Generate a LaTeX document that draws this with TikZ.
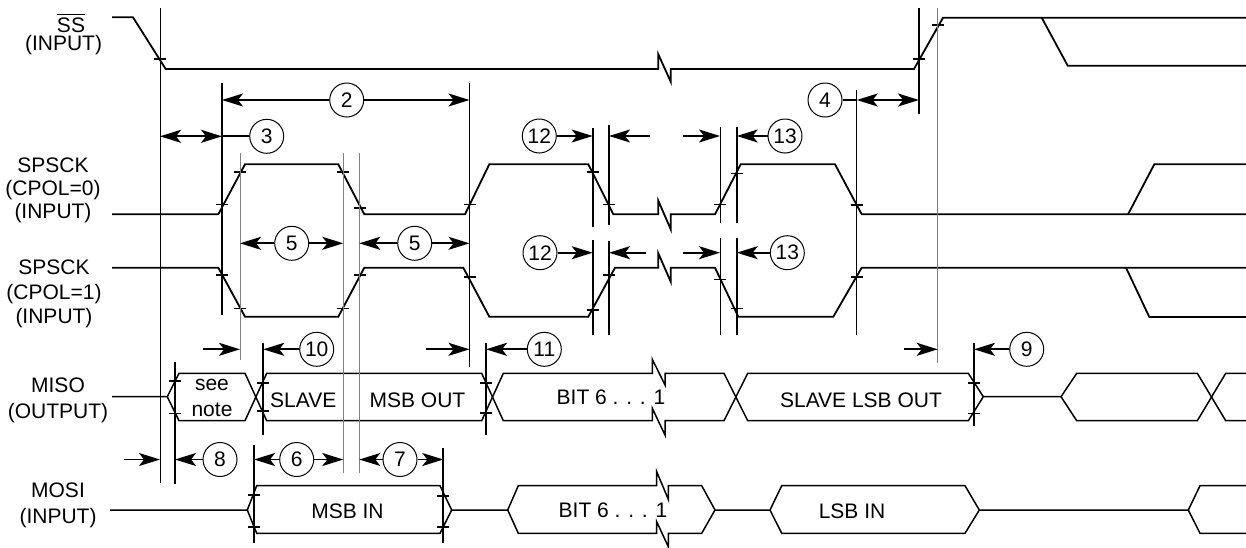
\documentclass[tikz,border=0pt]{standalone}
\usepackage{fontspec}
\setmainfont{Liberation Sans}
\usetikzlibrary{arrows.meta}
\tikzset {
    signal/.style = {line width = 0.9pt},
    bus/.style = {line width = 0.75pt},
    ref line/.style = {line width = 0.9pt},
    thin ref/.style = {line width = 0.5pt},
    gray ref/.style = {line width = 0.5pt, black!50},
    dim line/.style = {line width = 0.85pt},
    dim arrow/.style = {
        dim line,
        -{Stealth[length = 10.5pt, width = 6.5pt, inset = 2.5pt]}
    },
    dim both/.style = {
        dim line,
        {Stealth[length = 10.5pt, width = 6.5pt, inset = 2.5pt]}-{Stealth[length = 10.5pt, width = 6.5pt, inset = 2.5pt]}
    },
    tag/.style = {circle, draw, line width = 0.5pt, minimum size = 17pt, inner sep = 0pt},
    name text/.style = {align = center},
    %
    edge tick/.pic = {
        \draw [line width = 0.8pt] (-6, 0) -- (6, 0);
    },
}

\begin{document}
\begin{tikzpicture}[x = 0.5pt, y = -0.5pt, font = \fontsize{10.5}{12.5}\selectfont]
    \useasboundingbox (0, 0) rectangle (1246, 547);
    % signal names
    \node (ss name) [anchor = base] at (71, 32) {$\overline{\mbox{SS}}$};
    \node (ss dir) [anchor = base] at (63.5, 50) {(INPUT)};
    \node (sck0 name) [name text, font = \fontsize{10.5}{11.5}\selectfont] at (53, 190) {SPSCK\\(CPOL=0)\\(INPUT)};
    \node (sck1 name) [name text, font = \fontsize{10.5}{12.25}\selectfont] at (54, 294.3) {SPSCK\\(CPOL=1)\\(INPUT)};
    \node (miso name) [name text, font = \fontsize{10.5}{12.75}\selectfont] at (58, 400.3) {MISO\\(OUTPUT)};
    \node (mosi name) [name text, font = \fontsize{10.5}{12.75}\selectfont] at (58, 505.4) {MOSI\\(INPUT)};

    % SS
    \draw [signal] (112, 17.3) -- (133, 17.3) -- (165.7, 69) -- (658.3, 69) -- (658.3, 54.3)
        -- (670.7, 81.7) -- (670.7, 69) -- (914, 69) -- (943, 17.7) -- (1246, 17.7);
    \draw [signal] (1041.7, 17.7) -- (1067.7, 65.7) -- (1246, 65.7);
    \pic at (160, 59) {edge tick};
    \pic at (919, 59) {edge tick};
    \pic at (938, 25) {edge tick};

    % SPSCK, CPOL = 0
    \draw [signal] (112, 214.3) -- (218.3, 214.3) -- (245, 164.3) -- (338.3, 164.3) -- (364.3, 214.3)
        -- (465, 214.3) -- (489.3, 164.3) -- (588.3, 164.3) -- (613.3, 214.3) -- (658.3, 214.3)
        -- (658.3, 200.7) -- (670.7, 229.3) -- (670.7, 214.3) -- (715, 214.3) -- (740.7, 164.3)
        -- (835, 164.3) -- (861.7, 214.3) -- (1246, 214.3);
    \draw [signal] (1128, 214.3) -- (1154.3, 164.3) -- (1246, 164.3);
    \pic at (222, 204.3) {edge tick};
    \pic at (240, 171.7) {edge tick};
    \pic at (343.3, 171.7) {edge tick};
    \pic at (360, 207.7) {edge tick};
    \pic at (470, 204.3) {edge tick};
    \pic at (592.7, 171.7) {edge tick};
    \pic at (609, 204.3) {edge tick};
    \pic at (720, 204.3) {edge tick};
    \pic at (736.7, 173.3) {edge tick};
    \pic at (856.7, 205) {edge tick};

    % SPSCK, CPOL = 1
    \draw [signal] (112, 267.7) -- (218.3, 267.7) -- (245, 316.7) -- (338.3, 316.7) -- (364.3, 267.7)
        -- (463.3, 267.7) -- (489.3, 316.7) -- (588.3, 316.7) -- (615, 267.7) -- (658.3, 267.7)
        -- (658.3, 253.3) -- (670.7, 281.7) -- (670.7, 267.7) -- (715, 267.7) -- (738.3, 316.7)
        -- (833.3, 316.7) -- (861.7, 267.7) -- (1246, 267.7);
    \draw [signal] (1126, 267.7) -- (1149.3, 317) -- (1246, 317);
    \pic at (222, 275) {edge tick};
    \pic at (240, 308.3) {edge tick};
    \pic at (343.3, 308.3) {edge tick};
    \pic at (360, 275) {edge tick};
    \pic at (469.5, 276.7) {edge tick};
    \pic at (592.7, 310) {edge tick};
    \pic at (609, 275) {edge tick};
    \pic at (720, 279.3) {edge tick};
    \pic at (736.7, 308.3) {edge tick};
    \pic at (856.7, 276.7) {edge tick};

    % MISO
    \draw [bus] (112, 396.7) -- (167.3, 396.7) -- (179, 373.3) -- (245, 373.3) -- (266.7, 420.7)
        -- (481.7, 420.7) -- (503.3, 373.3) -- (652.3, 373.3) -- (652.3, 359.3) -- (665, 385)
        -- (665, 373.3) -- (724, 373.3) -- (747.7, 420.7) -- (968.3, 420.7) -- (983.3, 396.7)
        -- (1061, 396.7) -- (1076.7, 373.3) -- (1197.3, 373.3) -- (1225.7, 420.7) -- (1246, 420.7);
    \draw [bus] (167.3, 396.7) -- (179, 420.7) -- (245, 420.7) -- (266.7, 373.3) -- (481.7, 373.3)
        -- (503.3, 420.7) -- (652.3, 420.7) -- (652.3, 408.3) -- (665, 435) -- (665, 420.7)
        -- (724, 420.7) -- (747.7, 373.3) -- (968.3, 373.3) -- (983.3, 396.7);
    \draw [bus] (1061, 396.7) -- (1076.7, 420.7) -- (1197.3, 420.7) -- (1225.7, 373.3) -- (1246, 373.3);
    \pic at (175, 380.7) {edge tick};
    \pic at (175, 413.3) {edge tick};
    \pic at (263.3, 382.7) {edge tick};
    \pic at (263.3, 411) {edge tick};
    \pic at (486, 382.7) {edge tick};
    \pic at (486, 412.7) {edge tick};
    \pic at (974, 382.7) {edge tick};
    \pic at (974, 413.3) {edge tick};
    \node (see note) [name text, font = \fontsize{10.5}{13}\selectfont] at (212, 397.5) {see\\note};
    \node (slave msb) at (303.3, 400) {SLAVE};
    \node (msb out) at (417.5, 400) {MSB OUT};
    \node (miso bits) at (611, 397.5) {BIT 6 . . . 1};
    \node (slave lsb) at (861, 400) {SLAVE LSB OUT};

    % MOSI
    \draw [bus] (110, 510) -- (247.3, 510) -- (256.7, 485.7) -- (440, 485.7) -- (451.7, 510)
        -- (507.7, 510) -- (518.3, 485.7) -- (656.7, 485.7) -- (656.7, 471.7) -- (668.3, 499.3)
        -- (668.3, 485.7) -- (701.7, 485.7) -- (715, 510) -- (770, 510) -- (781.7, 485.7)
        -- (965, 485.7) -- (979.3, 510) -- (1188.3, 510) -- (1200, 485.7) -- (1246, 485.7);
    \draw [bus] (247.3, 510) -- (256.7, 533.3) -- (440, 533.3) -- (451.7, 510);
    \draw [bus] (507.7, 510) -- (518.3, 533.3) -- (656.7, 533.3) -- (656.7, 521.7) -- (668.3, 546.7)
        -- (668.3, 533.3) -- (701.7, 533.3) -- (715, 510);
    \draw [bus] (770, 510) -- (781.7, 533.3) -- (965, 533.3) -- (979.3, 510);
    \draw [bus] (1188.3, 510) -- (1200, 533.3) -- (1246, 533.3);
    \pic at (254, 495) {edge tick};
    \pic at (254, 526.7) {edge tick};
    \pic at (443.3, 495.7) {edge tick};
    \pic at (443.3, 526.7) {edge tick};
    \node (msb in) at (347.5, 511.7) {MSB IN};
    \node (mosi bits) at (613, 510.5) {BIT 6 . . . 1};
    \node (lsb in) at (852, 511) {LSB IN};

    % reference lines
    \coordinate (ss fall) at (160, 8);
    \coordinate (sck lead) at (222, 83);
    \coordinate (sck mid) at (240, 153);
    \coordinate (sck fall) at (343.3, 153);
    \coordinate (sck fall2) at (359.3, 153);
    \coordinate (sck next) at (469.5, 83);
    \coordinate (edge a) at (592.7, 127.7);
    \coordinate (edge b) at (609, 125);
    \coordinate (edge c) at (720, 126.7);
    \coordinate (edge d) at (736.7, 126.7);
    \coordinate (sck last) at (856.7, 90);
    \coordinate (ss rise) at (919, 8);
    \coordinate (ss high) at (937.7, 8);
    \coordinate (miso on) at (175, 361.7);
    \coordinate (miso a) at (263.3, 342.7);
    \coordinate (miso b) at (486, 342.7);
    \coordinate (miso off) at (974, 342.7);
    \coordinate (mosi a) at (254, 445);
    \coordinate (mosi b) at (443.3, 448.3);
    \draw [thin ref] (ss fall) -- (160, 483);
    \draw [ref line] (sck lead) -- (222, 315);
    \draw [gray ref] (sck mid) -- (240, 360);
    \draw [gray ref] (sck fall) -- (343.3, 473);
    \draw [gray ref] (sck fall2) -- (359.3, 473);
    \draw [ref line] (sck next) -- (469.5, 366.7);
    \draw [ref line] (edge a) -- (592.7, 226.7) (592.7, 240) -- (592.7, 335);
    \draw [ref line] (edge b) -- (609, 225) (609, 241) -- (609, 335);
    \draw [thin ref] (edge c) -- (720, 223.3) (720, 238.3) -- (720, 335);
    \draw [ref line] (edge d) -- (736.7, 223.3) (736.7, 238.3) -- (736.7, 335);
    \draw [thin ref] (sck last) -- (856.7, 335);
    \draw [ref line] (ss rise) -- (919, 114);
    \draw [gray ref] (ss high) -- (937.7, 363);
    \draw [ref line] (miso on) -- (175, 484);
    \draw [ref line] (miso a) -- (263.3, 435);
    \draw [ref line] (miso b) -- (486, 435);
    \draw [ref line] (miso off) -- (974, 426);
    \draw [ref line] (mosi a) -- (254, 543.3);
    \draw [ref line] (mosi b) -- (443.3, 542.7);

    % timing tags
    \node (c2) [tag] at (346.7, 100) {2};
    \node (c3) [tag] at (266.7, 136.3) {3};
    \node (c4) [tag] at (825, 100) {4};
    \node (c5a) [tag] at (291.7, 243.3) {5};
    \node (c5b) [tag] at (414.7, 243.3) {5};
    \node (c6) [tag] at (296.7, 459.5) {6};
    \node (c7) [tag] at (400, 459.5) {7};
    \node (c8) [tag] at (220, 459.5) {8};
    \node (c9) [tag] at (1026.7, 349.3) {9};
    \node (c10) [tag] at (316.7, 349.3) {10};
    \node (c11) [tag] at (544.3, 349.3) {11};
    \node (c12a) [tag] at (539.3, 136) {12};
    \node (c12b) [tag] at (540, 252.7) {12};
    \node (c13a) [tag] at (785, 136) {13};
    \node (c13b) [tag] at (787.3, 252.7) {13};

    \draw [dim arrow] (c2) -- (c2 -| sck lead);
    \draw [dim arrow] (c2) -- (c2 -| sck next);
    \draw [dim both] (c3 -| ss fall) -- (c3 -| sck lead);
    \draw [dim line] (c3 -| sck lead) -- (c3);
    \draw [dim line] (c4) -- (c4 -| sck last);
    \draw [dim both] (c4 -| sck last) -- (c4 -| ss rise);
    \draw [dim arrow] (c5a) -- (c5a -| sck mid);
    \draw [dim arrow] (c5a) -- (c5a -| sck fall);
    \draw [dim arrow] (c5b) -- (c5b -| sck fall2);
    \draw [dim arrow] (c5b) -- (c5b -| sck next);
    \draw [dim arrow] (c12a) -- (c12a -| edge a);
    \draw [dim arrow] (c12a -| edge b) ++(41, 0) -- (c12a -| edge b);
    \draw [dim arrow] (c12a -| edge c) ++(-36.7, 0) -- (c12a -| edge c);
    \draw [dim arrow] (c13a) -- (c13a -| edge d);
    \draw [dim arrow] (c12b) -- (c12b -| edge a);
    \draw [dim arrow] (c12b -| edge b) ++(36.7, 0) -- (c12b -| edge b);
    \draw [dim arrow] (c12b -| edge c) ++(-37.3, 0) -- (c12b -| edge c);
    \draw [dim arrow] (c13b) -- (c13b -| edge d);
    \draw [dim arrow] (c10 -| sck mid) ++(-36.7, 0) -- (c10 -| sck mid);
    \draw [dim arrow] (c10) -- (c10 -| miso a);
    \draw [dim arrow] (c11 -| sck next) ++(-43.5, 0) -- (c11 -| sck next);
    \draw [dim arrow] (c11) -- (c11 -| miso b);
    \draw [dim arrow] (c9 -| ss high) ++(-33.7, 0) -- (c9 -| ss high);
    \draw [dim arrow] (c9) -- (c9 -| miso off);
    \draw [dim arrow] (c8 -| ss fall) ++(-36, 0) -- (c8 -| ss fall);
    \draw [dim arrow] (c8) -- (c8 -| miso on);
    \draw [dim arrow] (c6) -- (c6 -| mosi a);
    \draw [dim arrow] (c6) -- (c6 -| sck fall);
    \draw [dim arrow] (c7) -- (c7 -| sck fall2);
    \draw [dim arrow] (c7) -- (c7 -| mosi b);
\end{tikzpicture}
\end{document}
